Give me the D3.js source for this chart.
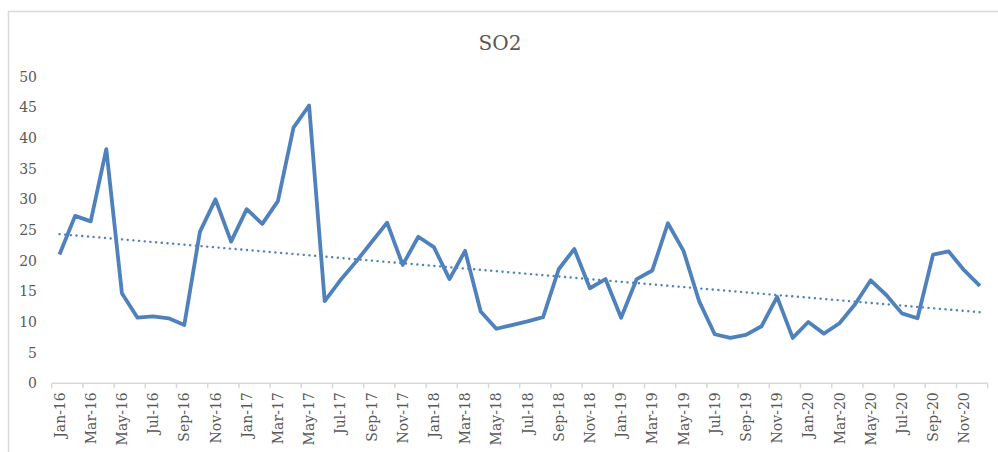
<!DOCTYPE html>
<html>
<head>
<meta charset="utf-8">
<script src="https://cdn.jsdelivr.net/npm/d3@7"></script>
<style>
  body { margin: 0; background: #fff; }
  svg { display: block; }
</style>
</head>
<body>
<svg id="chart" width="998" height="452"></svg>
<script>
const title = "SO2";
const months = ["Jan","Feb","Mar","Apr","May","Jun","Jul","Aug","Sep","Oct","Nov","Dec"];
const years = ["16","17","18","19","20"];
const categories = years.flatMap(y => months.map(m => `${m}-${y}`));
const so2Values = [
  21.0, 27.3, 26.4, 38.2, 14.7, 10.7, 10.9, 10.6, 9.5, 24.7, 30.0, 23.1,
  28.4, 26.0, 29.7, 41.7, 45.3, 13.4, 16.8, 19.8, 23.0, 26.2, 19.3, 23.9,
  22.2, 17.0, 21.6, 11.7, 8.9, 9.5, 10.1, 10.8, 18.6, 21.9, 15.5, 17.0,
  10.7, 17.0, 18.4, 26.1, 21.6, 13.4, 8.0, 7.4, 7.9, 9.3, 14.1, 7.4,
  10.0, 8.1, 9.8, 12.9, 16.8, 14.4, 11.4, 10.6, 21.0, 21.5, 18.4, 15.9
];
const yTicks = [0, 5, 10, 15, 20, 25, 30, 35, 40, 45, 50];

const svg = d3.select("#chart");
const font = "'DejaVu Serif', 'Liberation Serif', serif";
const textColor = "#595959";

// chart frame
svg.append("rect").attr("x", 8.5).attr("y", 11.5).attr("width", 1200).attr("height", 600)
  .attr("fill", "none").attr("stroke", "#d9d9d9").attr("stroke-width", 1.5);

const plotLeft = 51.7, plotRight = 987.7, plotTop = 76.7, plotBottom = 383.3;

const x = d3.scaleBand().domain(categories).range([plotLeft, plotRight]).padding(0);
const y = d3.scaleLinear().domain([0, 50]).range([plotBottom, plotTop]);

// title
svg.append("text").attr("x", 500).attr("y", 50).attr("text-anchor", "middle")
  .attr("font-family", font).attr("font-size", 20).attr("fill", textColor).text(title);

// y axis labels
svg.append("g").selectAll("text").data(yTicks).join("text")
  .attr("x", 37).attr("y", d => y(d)).attr("dy", "0.36em")
  .attr("text-anchor", "end").attr("font-family", font).attr("font-size", 14)
  .attr("fill", textColor).text(d => d);

// x axis line
svg.append("line").attr("x1", plotLeft).attr("x2", plotRight).attr("y1", plotBottom).attr("y2", plotBottom)
  .attr("stroke", "#d9d9d9").attr("stroke-width", 1.5);

// ticks every 2 categories at band boundaries
const tickCats = categories.filter((d, i) => i % 2 === 0);
svg.append("g").selectAll("line").data(tickCats.concat(["__end"])).join("line")
  .attr("x1", d => d === "__end" ? plotRight : x(d))
  .attr("x2", d => d === "__end" ? plotRight : x(d))
  .attr("y1", plotBottom).attr("y2", plotBottom + 5)
  .attr("stroke", "#d9d9d9").attr("stroke-width", 1.5);

// x labels
svg.append("g").selectAll("text").data(tickCats).join("text")
  .attr("transform", d => `translate(${x(d) + x.bandwidth() / 2},${plotBottom + 9}) rotate(-90)`)
  .attr("dy", "0.36em")
  .attr("text-anchor", "end").attr("font-family", font).attr("font-size", 14)
  .attr("fill", textColor).text(d => d);

const data = categories.map((c, i) => ({ c, v: so2Values[i], i }));

// linear trendline (least squares)
const n = data.length;
const mx = d3.mean(data, d => d.i), my = d3.mean(data, d => d.v);
const slope = d3.sum(data, d => (d.i - mx) * (d.v - my)) / d3.sum(data, d => (d.i - mx) ** 2);
const intercept = my - slope * mx;
const trend = [data[0], data[n - 1]].map(d => ({ c: d.c, v: intercept + slope * d.i }));

const line = d3.line().x(d => x(d.c) + x.bandwidth() / 2).y(d => y(d.v));

svg.append("path").datum(trend).attr("d", line)
  .attr("fill", "none").attr("stroke", "#4f81bd").attr("stroke-width", 2.4)
  .attr("stroke-dasharray", "0.1 5.6").attr("stroke-linecap", "round");

svg.append("path").datum(data).attr("d", line)
  .attr("fill", "none").attr("stroke", "#4f81bd").attr("stroke-width", 3.8)
  .attr("stroke-linejoin", "round");
</script>
</body>
</html>
